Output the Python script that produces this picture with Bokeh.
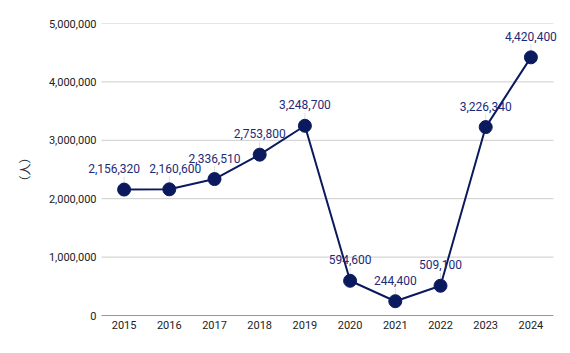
from bokeh.plotting import figure
from bokeh.models import ColumnDataSource, FixedTicker, NumeralTickFormatter, FactorRange, Range1d, Label
from bokeh.embed import file_html
from bokeh.resources import INLINE

years = ["2015", "2016", "2017", "2018", "2019", "2020", "2021", "2022", "2023", "2024"]
visitors = [2156320, 2160600, 2336510, 2753800, 3248700, 594600, 244400, 509100, 3226340, 4420400]
labels = ["2,156,320", "2,160,600", "2,336,510", "2,753,800", "3,248,700",
          "594,600", "244,400", "509,100", "3,226,340", "4,420,400"]
y_ticks = [0, 1000000, 2000000, 3000000, 4000000, 5000000]
label_dx = [-10, 6, 0, 0, 0, 0, 0, 0, 0, 0]

NAVY = "#0b1a5e"
TEXT_NAVY = "#1c2b78"

px_per_unit = 292 / 5000000.0
lead_top = [v + 13 / px_per_unit for v in visitors]
lead_bot = [v + 6 / px_per_unit for v in visitors]

src = ColumnDataSource(dict(x=years, y=visitors, lt=lead_top, lb=lead_bot))

n = len(years)
pad_px = 17
unit_px = 452 / n
xr = FactorRange(*years, range_padding=pad_px / unit_px, range_padding_units="absolute")
xr.factor_padding = 0

p = figure(width=570, height=353, x_range=xr,
           y_range=Range1d(0, 5000000), output_backend="svg", toolbar_location=None,
           min_border_left=101 - pad_px, min_border_right=0, min_border_top=23, min_border_bottom=38)
p.outline_line_color = None
p.background_fill_color = "white"
p.border_fill_color = "white"

p.xgrid.grid_line_color = None
p.ygrid.grid_line_color = None

# gridlines restricted to the category span
grid_src = ColumnDataSource(dict(y=y_ticks[1:], x0=[0] * (len(y_ticks) - 1), x1=[n] * (len(y_ticks) - 1)))
p.segment(x0="x0", y0="y", x1="x1", y1="y", source=grid_src, line_color="#cccccc", line_width=1)
p.segment(x0=[0], y0=[0], x1=[n], y1=[0], line_color="#333333", line_width=1)

p.yaxis.ticker = FixedTicker(ticks=y_ticks)
p.yaxis.formatter = NumeralTickFormatter(format="0,0")
p.yaxis.axis_line_color = None
p.yaxis.major_tick_line_color = None
p.yaxis.major_tick_out = 0
p.yaxis.major_tick_in = 0
p.yaxis.minor_tick_line_color = None
p.yaxis.major_label_text_font = "Roboto"
p.yaxis.major_label_text_font_size = "11px"
p.yaxis.major_label_text_color = "#222222"
p.yaxis.major_label_standoff = 5 - pad_px
p.yaxis.axis_label = "（人）"
p.yaxis.axis_label_text_font = "Noto Sans CJK JP"
p.yaxis.axis_label_text_font_size = "12px"
p.yaxis.axis_label_text_font_style = "normal"
p.yaxis.axis_label_text_color = "#333333"
p.yaxis.axis_label_standoff = 13

p.xaxis.axis_line_color = None
p.xaxis.major_tick_line_color = None
p.xaxis.major_tick_out = 0
p.xaxis.major_tick_in = 0
p.xaxis.minor_tick_line_color = None
p.xaxis.major_label_text_font = "Roboto"
p.xaxis.major_label_text_font_size = "11px"
p.xaxis.major_label_text_color = "#222222"
p.xaxis.major_label_standoff = 5

p.segment(x0="x", y0="lb", x1="x", y1="lt", source=src, line_color="#e0e0e0", line_width=1)
p.line(x="x", y="y", source=src, line_color=NAVY, line_width=2)
p.scatter(x="x", y="y", source=src, size=13, fill_color=NAVY, line_color=NAVY)

for i, (v, t, dx) in enumerate(zip(visitors, labels, label_dx)):
    p.add_layout(Label(x=i + 0.5, y=v, text=t, x_offset=dx, y_offset=21,
                       text_align="center", text_baseline="middle",
                       text_font="Roboto", text_font_size="12px", text_color=TEXT_NAVY))

open("out.html", "w").write(file_html(p, INLINE))
